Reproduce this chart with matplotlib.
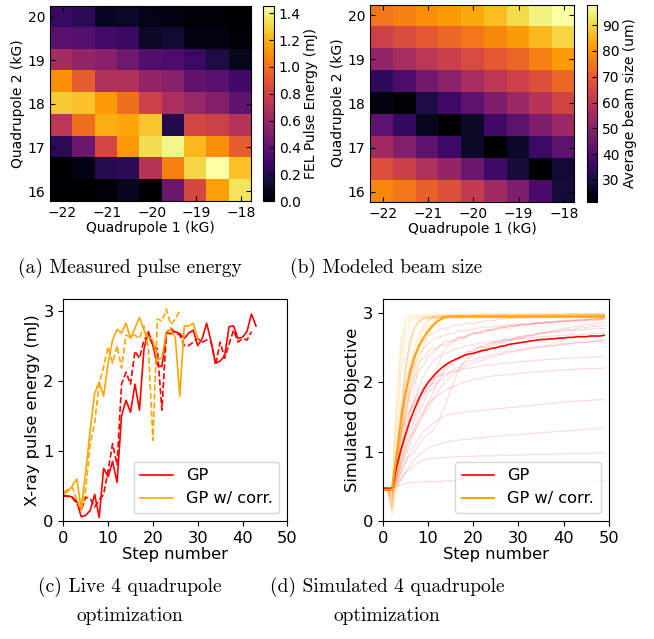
import numpy as np
import matplotlib
matplotlib.use("Agg")
import matplotlib.pyplot as plt

# (a) measured FEL pulse energy (mJ), rows from Q2 = 20 (top) down to 16
pulse_energy = [
    [0.26, 0.22, 0.09, 0.10, 0.06, 0.04, 0.02, 0.02, 0.01],
    [0.38, 0.36, 0.30, 0.26, 0.10, 0.13, 0.05, 0.04, 0.02],
    [0.65, 0.58, 0.54, 0.45, 0.35, 0.33, 0.27, 0.17, 0.08],
    [1.10, 0.93, 0.68, 0.68, 0.58, 0.53, 0.40, 0.38, 0.29],
    [1.27, 1.25, 1.13, 1.00, 0.80, 0.67, 0.60, 0.52, 0.40],
    [0.73, 0.99, 1.19, 1.17, 1.26, 0.19, 0.82, 0.80, 0.70],
    [0.22, 0.44, 0.82, 1.13, 1.33, 1.41, 1.22, 1.10, 0.93],
    [0.01, 0.04, 0.20, 0.22, 0.71, 1.05, 1.31, 1.45, 1.25],
    [0.00, 0.00, 0.02, 0.08, 0.01, 0.44, 0.83, 1.15, 1.35],
]

# (b) modeled average beam size (um)
beam_size = [
    [75.0, 76.5, 79.0, 81.0, 83.5, 86.5, 91.0, 95.0, 97.9],
    [63.5, 66.6, 69.0, 72.0, 75.0, 78.0, 81.0, 85.7, 90.0],
    [52.0, 56.0, 60.0, 63.0, 66.0, 69.0, 72.0, 76.5, 81.0],
    [33.8, 39.0, 46.0, 50.6, 56.0, 60.0, 63.6, 67.4, 72.0],
    [24.0, 22.4, 30.8, 37.0, 42.0, 48.0, 53.6, 59.0, 64.3],
    [42.0, 34.6, 26.0, 22.0, 27.0, 37.0, 42.0, 48.0, 53.6],
    [54.4, 49.0, 42.0, 36.0, 27.0, 21.6, 27.0, 36.0, 42.0],
    [67.4, 63.0, 57.5, 52.0, 44.5, 37.0, 29.2, 21.6, 28.5],
    [78.0, 75.0, 71.0, 67.4, 61.3, 54.4, 48.3, 38.4, 29.2],
]
q1_extent = [-22.28, -17.77]
q2_extent = [15.77, 20.245]
q_ticks_x = [-22, -21, -20, -19, -18]
q_ticks_y = [16, 17, 18, 19, 20]

# (c) live runs
gp_run1 = [0.35, 0.36, 0.34, 0.28, 0.06, 0.08, 0.15, 0.38, 0.05, 0.75,
           0.63, 0.85, 0.55, 1.50, 1.72, 1.55, 1.95, 1.58, 2.45, 2.70,
           2.50, 2.22, 2.20, 2.68, 2.67, 2.70, 2.67, 2.60, 2.68, 2.72,
           2.50, 2.60, 2.82, 2.55, 2.25, 2.28, 2.35, 2.77, 2.78, 2.60,
           2.62, 2.70, 2.95, 2.78]
gp_run2 = [0.37, 0.35, 0.33, 0.25, 0.15, 0.34, 0.32, 0.20, 0.30, 0.38,
           0.72, 1.10, 0.80, 1.95, 2.12, 1.95, 2.42, 2.32, 2.58, 2.65,
           2.50, 2.45, 1.58, 2.68, 2.75, 2.68, 2.65, 2.50, 2.50, 2.55,
           2.60, 2.55, 2.58, 2.55, 2.22, 2.55, 2.32, 2.52, 2.72, 2.55,
           2.60, 2.58, 2.70]
corr_run1 = [0.38, 0.42, 0.50, 0.60, 0.18, 0.70, 1.30, 1.82, 1.98, 1.78,
             2.25, 2.58, 2.73, 2.68, 2.82, 2.60, 2.75, 2.90, 2.72, 2.62,
             2.58, 2.30, 2.32, 2.70, 2.73, 2.62, 1.78, 2.78, 2.78, 2.82,
             2.60]
corr_run2 = [0.40, 0.45, 0.48, 0.30, 0.15, 0.45, 1.10, 1.40, 1.95, 2.20,
             2.48, 2.25, 2.50, 2.18, 2.65, 2.62, 2.65, 2.60, 2.78, 2.45,
             1.15, 2.88, 2.85, 3.02, 2.80, 2.88, 3.00]

# (d) simulated runs: mean curves and a selection of individual traces
gp_mean = [0.47, 0.47, 0.47, 0.78, 1.03, 1.25, 1.45, 1.62, 1.77, 1.90,
           2.00, 2.08, 2.15, 2.21, 2.26, 2.30, 2.33, 2.36, 2.39, 2.41,
           2.42, 2.44, 2.46, 2.47, 2.49, 2.50, 2.52, 2.53, 2.55, 2.56,
           2.57, 2.58, 2.59, 2.60, 2.61, 2.62, 2.62, 2.63, 2.63, 2.64,
           2.64, 2.65, 2.65, 2.66, 2.66, 2.66, 2.67, 2.67, 2.67, 2.68]
corr_mean = [0.45, 0.45, 0.45, 0.95, 1.45, 1.85, 2.15, 2.37, 2.53, 2.65,
             2.74, 2.82, 2.88, 2.92, 2.95, 2.95, 2.95, 2.95, 2.95, 2.95,
             2.95, 2.95, 2.95, 2.95, 2.95, 2.95, 2.95, 2.95, 2.95, 2.95,
             2.95, 2.95, 2.95, 2.95, 2.95, 2.95, 2.95, 2.95, 2.95, 2.95,
             2.95, 2.95, 2.95, 2.95, 2.95, 2.95, 2.95, 2.95, 2.95, 2.95]

gp_traces = [
    [0.47, 0.47, 0.46, 0.95, 1.55, 1.98, 2.25, 2.42, 2.55, 2.60, 2.68, 2.70, 2.74, 2.78, 2.76, 2.80, 2.83, 2.82, 2.85, 2.86,
     2.84, 2.87, 2.88, 2.90, 2.89, 2.90, 2.92, 2.91, 2.93, 2.92, 2.94, 2.93, 2.94, 2.95, 2.94, 2.95, 2.96, 2.95, 2.96, 2.96,
     2.95, 2.97, 2.96, 2.97, 2.97, 2.96, 2.97, 2.98, 2.97, 2.98],
    [0.47, 0.47, 0.30, 0.70, 1.20, 1.60, 1.90, 2.10, 2.30, 2.35, 2.45, 2.50, 2.48, 2.55, 2.60, 2.58, 2.62, 2.66, 2.65, 2.70,
     2.72, 2.70, 2.74, 2.76, 2.75, 2.78, 2.80, 2.79, 2.82, 2.81, 2.83, 2.84, 2.83, 2.85, 2.86, 2.85, 2.87, 2.86, 2.88, 2.87,
     2.88, 2.89, 2.88, 2.90, 2.89, 2.90, 2.91, 2.90, 2.91, 2.92],
    [0.47, 0.47, 0.47, 0.60, 0.90, 1.10, 1.30, 1.45, 1.60, 1.70, 1.85, 1.90, 2.00, 2.05, 2.10, 2.15, 2.20, 2.22, 2.28, 2.30,
     2.32, 2.35, 2.36, 2.38, 2.40, 2.42, 2.41, 2.44, 2.45, 2.46, 2.48, 2.47, 2.50, 2.50, 2.52, 2.51, 2.53, 2.54, 2.53, 2.55,
     2.56, 2.55, 2.57, 2.58, 2.57, 2.58, 2.59, 2.60, 2.60, 2.61],
    [0.47, 0.47, 0.47, 0.55, 0.70, 0.85, 0.95, 1.00, 1.10, 1.20, 1.25, 1.30, 1.40, 1.55, 1.70, 1.90, 2.05, 2.20, 2.30, 2.35,
     2.40, 2.45, 2.48, 2.50, 2.52, 2.55, 2.56, 2.58, 2.60, 2.62, 2.63, 2.65, 2.66, 2.68, 2.70, 2.71, 2.72, 2.74, 2.75, 2.76,
     2.78, 2.79, 2.80, 2.81, 2.82, 2.83, 2.84, 2.85, 2.86, 2.87],
    [0.47, 0.47, 0.40, 0.85, 1.30, 1.75, 2.05, 2.25, 2.40, 2.50, 2.55, 2.62, 2.65, 2.66, 2.70, 2.70, 2.72, 2.75, 2.74, 2.76,
     2.77, 2.78, 2.80, 2.79, 2.80, 2.81, 2.82, 2.82, 2.83, 2.84, 2.83, 2.84, 2.85, 2.85, 2.86, 2.86, 2.87, 2.86, 2.87, 2.88,
     2.88, 2.88, 2.89, 2.89, 2.89, 2.90, 2.90, 2.90, 2.91, 2.91],
    [0.47, 0.47, 0.47, 0.80, 1.10, 1.40, 1.60, 1.75, 1.85, 1.95, 2.00, 2.05, 2.08, 2.10, 2.12, 2.15, 2.16, 2.18, 2.20, 2.20,
     2.22, 2.23, 2.24, 2.25, 2.25, 2.26, 2.27, 2.28, 2.28, 2.29, 2.30, 2.30, 2.31, 2.31, 2.32, 2.32, 2.33, 2.33, 2.34, 2.34,
     2.35, 2.35, 2.35, 2.36, 2.36, 2.36, 2.37, 2.37, 2.37, 2.38],
    [0.47, 0.47, 0.47, 0.60, 0.80, 1.00, 1.20, 1.35, 1.50, 1.60, 1.70, 1.75, 1.80, 1.85, 1.90, 1.92, 1.95, 1.98, 2.00, 2.02,
     2.04, 2.05, 2.06, 2.08, 2.09, 2.10, 2.10, 2.11, 2.12, 2.12, 2.13, 2.14, 2.14, 2.15, 2.15, 2.16, 2.16, 2.17, 2.17, 2.18,
     2.18, 2.18, 2.19, 2.19, 2.19, 2.20, 2.20, 2.20, 2.20, 2.21],
    [0.47, 0.47, 0.47, 0.55, 0.70, 0.85, 1.00, 1.10, 1.20, 1.30, 1.35, 1.40, 1.45, 1.50, 1.52, 1.54, 1.55, 1.56, 1.57, 1.58,
     1.58, 1.59, 1.60, 1.60, 1.61, 1.62, 1.62, 1.63, 1.64, 1.64, 1.65, 1.66, 1.66, 1.67, 1.68, 1.68, 1.69, 1.70, 1.70, 1.71,
     1.72, 1.72, 1.73, 1.73, 1.74, 1.74, 1.74, 1.75, 1.75, 1.75],
    [0.47, 0.47, 0.47, 0.50, 0.60, 0.70, 0.80, 0.90, 0.95, 1.00, 1.05, 1.08, 1.10, 1.12, 1.14, 1.15, 1.16, 1.17, 1.18, 1.18,
     1.19, 1.20, 1.20, 1.21, 1.22, 1.22, 1.23, 1.23, 1.24, 1.24, 1.25, 1.25, 1.26, 1.26, 1.27, 1.27, 1.28, 1.28, 1.29, 1.29,
     1.30, 1.30, 1.31, 1.31, 1.32, 1.32, 1.33, 1.33, 1.34, 1.35],
    [0.47, 0.47, 0.47, 0.50, 0.60, 0.70, 0.75, 0.80, 0.85, 0.88, 0.90, 0.90, 0.91, 0.91, 0.92, 0.92, 0.92, 0.93, 0.93, 0.93,
     0.93, 0.94, 0.94, 0.94, 0.94, 0.94, 0.95, 0.95, 0.95, 0.95, 0.95, 0.95, 0.96, 0.96, 0.96, 0.96, 0.96, 0.96, 0.96, 0.97,
     0.97, 0.97, 0.97, 0.97, 0.97, 0.97, 0.97, 0.98, 0.98, 0.98],
    [0.47, 0.47, 0.47, 0.50, 0.52, 0.54, 0.55, 0.56, 0.56, 0.57, 0.57, 0.57, 0.57, 0.57, 0.58, 0.58, 0.58, 0.58, 0.58, 0.58,
     0.58, 0.58, 0.58, 0.58, 0.58, 0.58, 0.58, 0.58, 0.58, 0.58, 0.58, 0.58, 0.58, 0.58, 0.58, 0.58, 0.58, 0.58, 0.58, 0.58,
     0.58, 0.58, 0.58, 0.58, 0.58, 0.58, 0.58, 0.58, 0.58, 0.58],
    [0.47, 0.47, 0.20, 0.80, 1.60, 2.20, 2.60, 2.80, 2.88, 2.92, 2.94, 2.95, 2.95, 2.96, 2.95, 2.96, 2.96, 2.97, 2.96, 2.97,
     2.97, 2.96, 2.97, 2.97, 2.98, 2.97, 2.97, 2.98, 2.97, 2.98, 2.98, 2.97, 2.98, 2.98, 2.98, 2.97, 2.98, 2.98, 2.98, 2.98,
     2.98, 2.98, 2.99, 2.98, 2.98, 2.99, 2.98, 2.99, 2.99, 2.99],
    [0.47, 0.47, 0.47, 0.70, 1.00, 1.30, 1.55, 1.75, 1.95, 2.10, 2.20, 2.30, 2.35, 2.40, 2.42, 2.45, 2.48, 2.50, 2.52, 2.53,
     2.55, 2.56, 2.57, 2.58, 2.59, 2.60, 2.60, 2.61, 2.62, 2.62, 2.63, 2.64, 2.64, 2.65, 2.65, 2.66, 2.66, 2.67, 2.67, 2.68,
     2.68, 2.68, 2.69, 2.69, 2.69, 2.70, 2.70, 2.70, 2.71, 2.71],
    [0.47, 0.47, 0.47, 0.90, 1.30, 1.50, 1.60, 1.70, 1.80, 1.85, 1.90, 2.00, 2.20, 2.40, 2.50, 2.55, 2.60, 2.62, 2.65, 2.68,
     2.70, 2.72, 2.73, 2.75, 2.76, 2.78, 2.79, 2.80, 2.81, 2.82, 2.83, 2.84, 2.84, 2.85, 2.86, 2.86, 2.87, 2.88, 2.88, 2.89,
     2.89, 2.90, 2.90, 2.90, 2.91, 2.91, 2.92, 2.92, 2.92, 2.93],
    [0.47, 0.47, 0.47, 0.65, 0.85, 1.05, 1.20, 1.30, 1.40, 1.55, 1.70, 1.85, 2.00, 2.10, 2.18, 2.25, 2.30, 2.36, 2.40, 2.44,
     2.46, 2.50, 2.52, 2.55, 2.57, 2.58, 2.60, 2.62, 2.63, 2.64, 2.66, 2.67, 2.68, 2.69, 2.70, 2.71, 2.72, 2.72, 2.73, 2.74,
     2.74, 2.75, 2.75, 2.76, 2.76, 2.77, 2.77, 2.78, 2.78, 2.78],
    [0.47, 0.47, 0.47, 0.75, 1.05, 1.20, 1.45, 1.50, 1.72, 1.80, 1.95, 1.98, 2.10, 2.12, 2.25, 2.28, 2.35, 2.33, 2.42, 2.45,
     2.44, 2.50, 2.52, 2.50, 2.56, 2.58, 2.57, 2.62, 2.60, 2.64, 2.66, 2.65, 2.68, 2.67, 2.70, 2.72, 2.71, 2.73, 2.74, 2.73,
     2.76, 2.77, 2.76, 2.78, 2.80, 2.79, 2.81, 2.82, 2.81, 2.83],
    [0.47, 0.47, 0.35, 0.80, 1.25, 1.55, 1.85, 2.00, 2.18, 2.25, 2.38, 2.42, 2.50, 2.55, 2.53, 2.60, 2.62, 2.66, 2.64, 2.68,
     2.70, 2.72, 2.71, 2.74, 2.76, 2.75, 2.78, 2.79, 2.78, 2.81, 2.82, 2.81, 2.83, 2.84, 2.85, 2.84, 2.86, 2.87, 2.86, 2.88,
     2.89, 2.88, 2.90, 2.90, 2.91, 2.90, 2.92, 2.92, 2.93, 2.93],
    [0.47, 0.47, 0.47, 0.62, 0.78, 0.95, 1.10, 1.28, 1.45, 1.55, 1.62, 1.75, 1.85, 1.95, 2.02, 2.08, 2.15, 2.18, 2.22, 2.25,
     2.28, 2.30, 2.32, 2.35, 2.36, 2.38, 2.40, 2.41, 2.43, 2.44, 2.46, 2.47, 2.48, 2.49, 2.50, 2.51, 2.52, 2.53, 2.53, 2.54,
     2.55, 2.56, 2.56, 2.57, 2.58, 2.58, 2.59, 2.59, 2.60, 2.60],
]

corr_traces = [
    [0.45, 0.45, 0.30, 1.20, 2.10, 2.60, 2.85, 2.93, 2.95, 2.96, 2.95, 2.96, 2.97, 2.95, 2.96, 2.97, 2.96, 2.95, 2.97, 2.96,
     2.97, 2.96, 2.98, 2.97, 2.96, 2.97, 2.98, 2.97, 2.96, 2.98, 2.97, 2.97, 2.98, 2.96, 2.97, 2.98, 2.97, 2.98, 2.97, 2.98,
     2.97, 2.98, 2.98, 2.97, 2.98, 2.98, 2.97, 2.98, 2.98, 2.98],
    [0.45, 0.45, 0.15, 0.60, 1.10, 1.60, 2.00, 2.35, 2.60, 2.78, 2.88, 2.93, 2.95, 2.94, 2.96, 2.95, 2.94, 2.96, 2.95, 2.96,
     2.95, 2.94, 2.96, 2.95, 2.96, 2.95, 2.96, 2.95, 2.96, 2.95, 2.96, 2.96, 2.95, 2.96, 2.96, 2.95, 2.96, 2.96, 2.96, 2.95,
     2.96, 2.96, 2.96, 2.96, 2.95, 2.96, 2.96, 2.96, 2.96, 2.96],
    [0.45, 0.45, 0.45, 1.50, 2.40, 2.80, 2.92, 2.94, 2.93, 2.95, 2.94, 2.95, 2.93, 2.95, 2.94, 2.95, 2.94, 2.93, 2.95, 2.94,
     2.95, 2.94, 2.95, 2.94, 2.95, 2.95, 2.94, 2.95, 2.94, 2.95, 2.95, 2.94, 2.95, 2.95, 2.94, 2.95, 2.95, 2.95, 2.94, 2.95,
     2.95, 2.95, 2.95, 2.94, 2.95, 2.95, 2.95, 2.95, 2.95, 2.95],
    [0.45, 0.45, 0.25, 0.70, 1.30, 1.80, 2.20, 2.50, 2.70, 2.82, 2.90, 2.94, 2.96, 2.97, 2.96, 2.98, 2.97, 2.96, 2.98, 2.97,
     2.98, 2.97, 2.98, 2.97, 2.98, 2.98, 2.97, 2.98, 2.98, 2.97, 2.98, 2.98, 2.98, 2.97, 2.98, 2.98, 2.98, 2.98, 2.97, 2.98,
     2.98, 2.98, 2.98, 2.98, 2.98, 2.98, 2.98, 2.98, 2.98, 2.98],
    [0.45, 0.45, 0.45, 0.90, 1.50, 2.10, 2.50, 2.75, 2.88, 2.93, 2.92, 2.94, 2.93, 2.95, 2.94, 2.93, 2.95, 2.94, 2.95, 2.93,
     2.95, 2.94, 2.95, 2.94, 2.95, 2.94, 2.95, 2.95, 2.94, 2.95, 2.94, 2.95, 2.95, 2.94, 2.95, 2.95, 2.94, 2.95, 2.95, 2.95,
     2.94, 2.95, 2.95, 2.95, 2.95, 2.94, 2.95, 2.95, 2.95, 2.95],
    [0.45, 0.45, 0.10, 0.40, 0.80, 1.20, 1.60, 1.95, 2.25, 2.50, 2.68, 2.80, 2.88, 2.93, 2.95, 2.96, 2.95, 2.97, 2.96, 2.95,
     2.97, 2.96, 2.97, 2.96, 2.97, 2.96, 2.97, 2.97, 2.96, 2.97, 2.97, 2.96, 2.97, 2.97, 2.97, 2.96, 2.97, 2.97, 2.97, 2.97,
     2.96, 2.97, 2.97, 2.97, 2.97, 2.97, 2.96, 2.97, 2.97, 2.97],
    [0.45, 0.45, 0.40, 1.80, 2.60, 2.90, 2.96, 2.98, 2.97, 2.99, 2.98, 2.97, 2.99, 2.98, 2.99, 2.98, 2.97, 2.99, 2.98, 2.99,
     2.98, 2.99, 2.98, 2.99, 2.98, 2.99, 2.99, 2.98, 2.99, 2.98, 2.99, 2.99, 2.98, 2.99, 2.99, 2.98, 2.99, 2.99, 2.99, 2.98,
     2.99, 2.99, 2.99, 2.99, 2.98, 2.99, 2.99, 2.99, 2.99, 2.99],
    [0.45, 0.45, 0.35, 1.00, 1.70, 2.25, 2.60, 2.80, 2.90, 2.92, 2.91, 2.93, 2.92, 2.93, 2.92, 2.94, 2.93, 2.92, 2.93, 2.94,
     2.93, 2.92, 2.93, 2.94, 2.93, 2.93, 2.94, 2.93, 2.92, 2.93, 2.94, 2.93, 2.93, 2.94, 2.93, 2.93, 2.94, 2.93, 2.93, 2.94,
     2.93, 2.93, 2.94, 2.93, 2.94, 2.93, 2.93, 2.94, 2.93, 2.94],
    [0.45, 0.45, 0.20, 0.55, 1.00, 1.45, 1.85, 2.20, 2.45, 2.65, 2.78, 2.87, 2.92, 2.95, 2.96, 2.95, 2.96, 2.97, 2.96, 2.95,
     2.96, 2.97, 2.96, 2.97, 2.96, 2.96, 2.97, 2.96, 2.97, 2.96, 2.97, 2.97, 2.96, 2.97, 2.96, 2.97, 2.97, 2.96, 2.97, 2.97,
     2.97, 2.96, 2.97, 2.97, 2.97, 2.97, 2.96, 2.97, 2.97, 2.97],
]

RED = "red"
ORANGE = "orange"
caption_font = "cmr10"

fig = plt.figure(figsize=(6.54, 6.39), dpi=100)

# ---- heatmaps ----
def heat(ax_rect, cax_rect, data, vmin, vmax, cbar_label, cbar_ticks):
    ax = fig.add_axes(ax_rect)
    cax = fig.add_axes(cax_rect)
    im = ax.imshow(np.array(data), cmap="inferno", vmin=vmin, vmax=vmax,
                   extent=q1_extent + q2_extent, aspect="auto",
                   interpolation="nearest", origin="upper")
    ax.set_xticks(q_ticks_x)
    ax.set_yticks(q_ticks_y)
    ax.tick_params(direction="in", top=True, right=True, labelsize=10, length=3.5)
    ax.set_xlabel("Quadrupole 1 (kG)", fontsize=10, labelpad=1)
    ax.set_ylabel("Quadrupole 2 (kG)", fontsize=10, labelpad=2)
    cb = fig.colorbar(im, cax=cax, ticks=cbar_ticks)
    cb.ax.tick_params(direction="in", labelsize=10, length=3.5)
    cb.set_label(cbar_label, fontsize=10, labelpad=2)
    return ax

heat([0.0765, 0.6854, 0.3073, 0.3052], [0.4021, 0.6854, 0.0168, 0.3052],
     pulse_energy, 0.0, 1.455, "FEL Pulse Energy (mJ)",
     [0.0, 0.2, 0.4, 0.6, 0.8, 1.0, 1.2, 1.4])
heat([0.5657, 0.6844, 0.3124, 0.3083], [0.8976, 0.6844, 0.0160, 0.3083],
     beam_size, 21.6, 97.9, "Average beam size (um)",
     [30, 40, 50, 60, 70, 80, 90])

# ---- (c) live optimization ----
axc = fig.add_axes([0.0968, 0.1847, 0.3425, 0.3469])
axc.plot(range(len(gp_run1)), gp_run1, color=RED, lw=1.2, label="GP")
axc.plot(range(len(gp_run2)), gp_run2, color=RED, lw=1.2, ls="--")
axc.plot(range(len(corr_run1)), corr_run1, color=ORANGE, lw=1.2, label="GP w/ corr.")
axc.plot(range(len(corr_run2)), corr_run2, color=ORANGE, lw=1.2, ls="--")
axc.set_xlim(0, 50)
axc.set_ylim(0, 3.16)
axc.set_xticks([0, 10, 20, 30, 40, 50])
axc.set_yticks([0, 1, 2, 3])
axc.tick_params(labelsize=11.7)
axc.set_xlabel("Step number", fontsize=11.7, labelpad=1)
axc.set_ylabel("X-ray pulse energy (mJ)", fontsize=11.7, labelpad=2)
axc.legend(loc="lower right", fontsize=11.7)

# ---- (d) simulated optimization ----
axd = fig.add_axes([0.5856, 0.1847, 0.3451, 0.3469])
for tr in gp_traces:
    axd.plot(range(len(tr)), tr, color=RED, lw=0.9, alpha=0.14)
for tr in corr_traces:
    axd.plot(range(len(tr)), tr, color=ORANGE, lw=0.9, alpha=0.2)
axd.plot(range(len(gp_mean)), gp_mean, color=RED, lw=1.2, label="GP")
axd.plot(range(len(corr_mean)), corr_mean, color=ORANGE, lw=1.5, label="GP w/ corr.")
axd.set_xlim(0, 50)
axd.set_ylim(0, 3.2)
axd.set_xticks([0, 10, 20, 30, 40, 50])
axd.set_yticks([0, 1, 2, 3])
axd.tick_params(labelsize=11.7)
axd.set_xlabel("Step number", fontsize=11.7, labelpad=1)
axd.set_ylabel("Simulated Objective", fontsize=11.7, labelpad=2)
axd.legend(loc="lower right", fontsize=11.7)

# ---- captions ----
fig.text(0.198, 0.5806, "(a) Measured pulse energy", family=caption_font,
         fontsize=14, ha="center", va="center")
fig.text(0.590, 0.5806, "(b) Modeled beam size", family=caption_font,
         fontsize=14, ha="center", va="center")
fig.text(0.199, 0.0595, "(c) Live 4 quadrupole\noptimization", family=caption_font,
         fontsize=14, ha="center", va="center", linespacing=1.7)
fig.text(0.592, 0.0595, "(d) Simulated 4 quadrupole\noptimization", family=caption_font,
         fontsize=14, ha="center", va="center", linespacing=1.7)

fig.savefig("out.png", dpi=100)
